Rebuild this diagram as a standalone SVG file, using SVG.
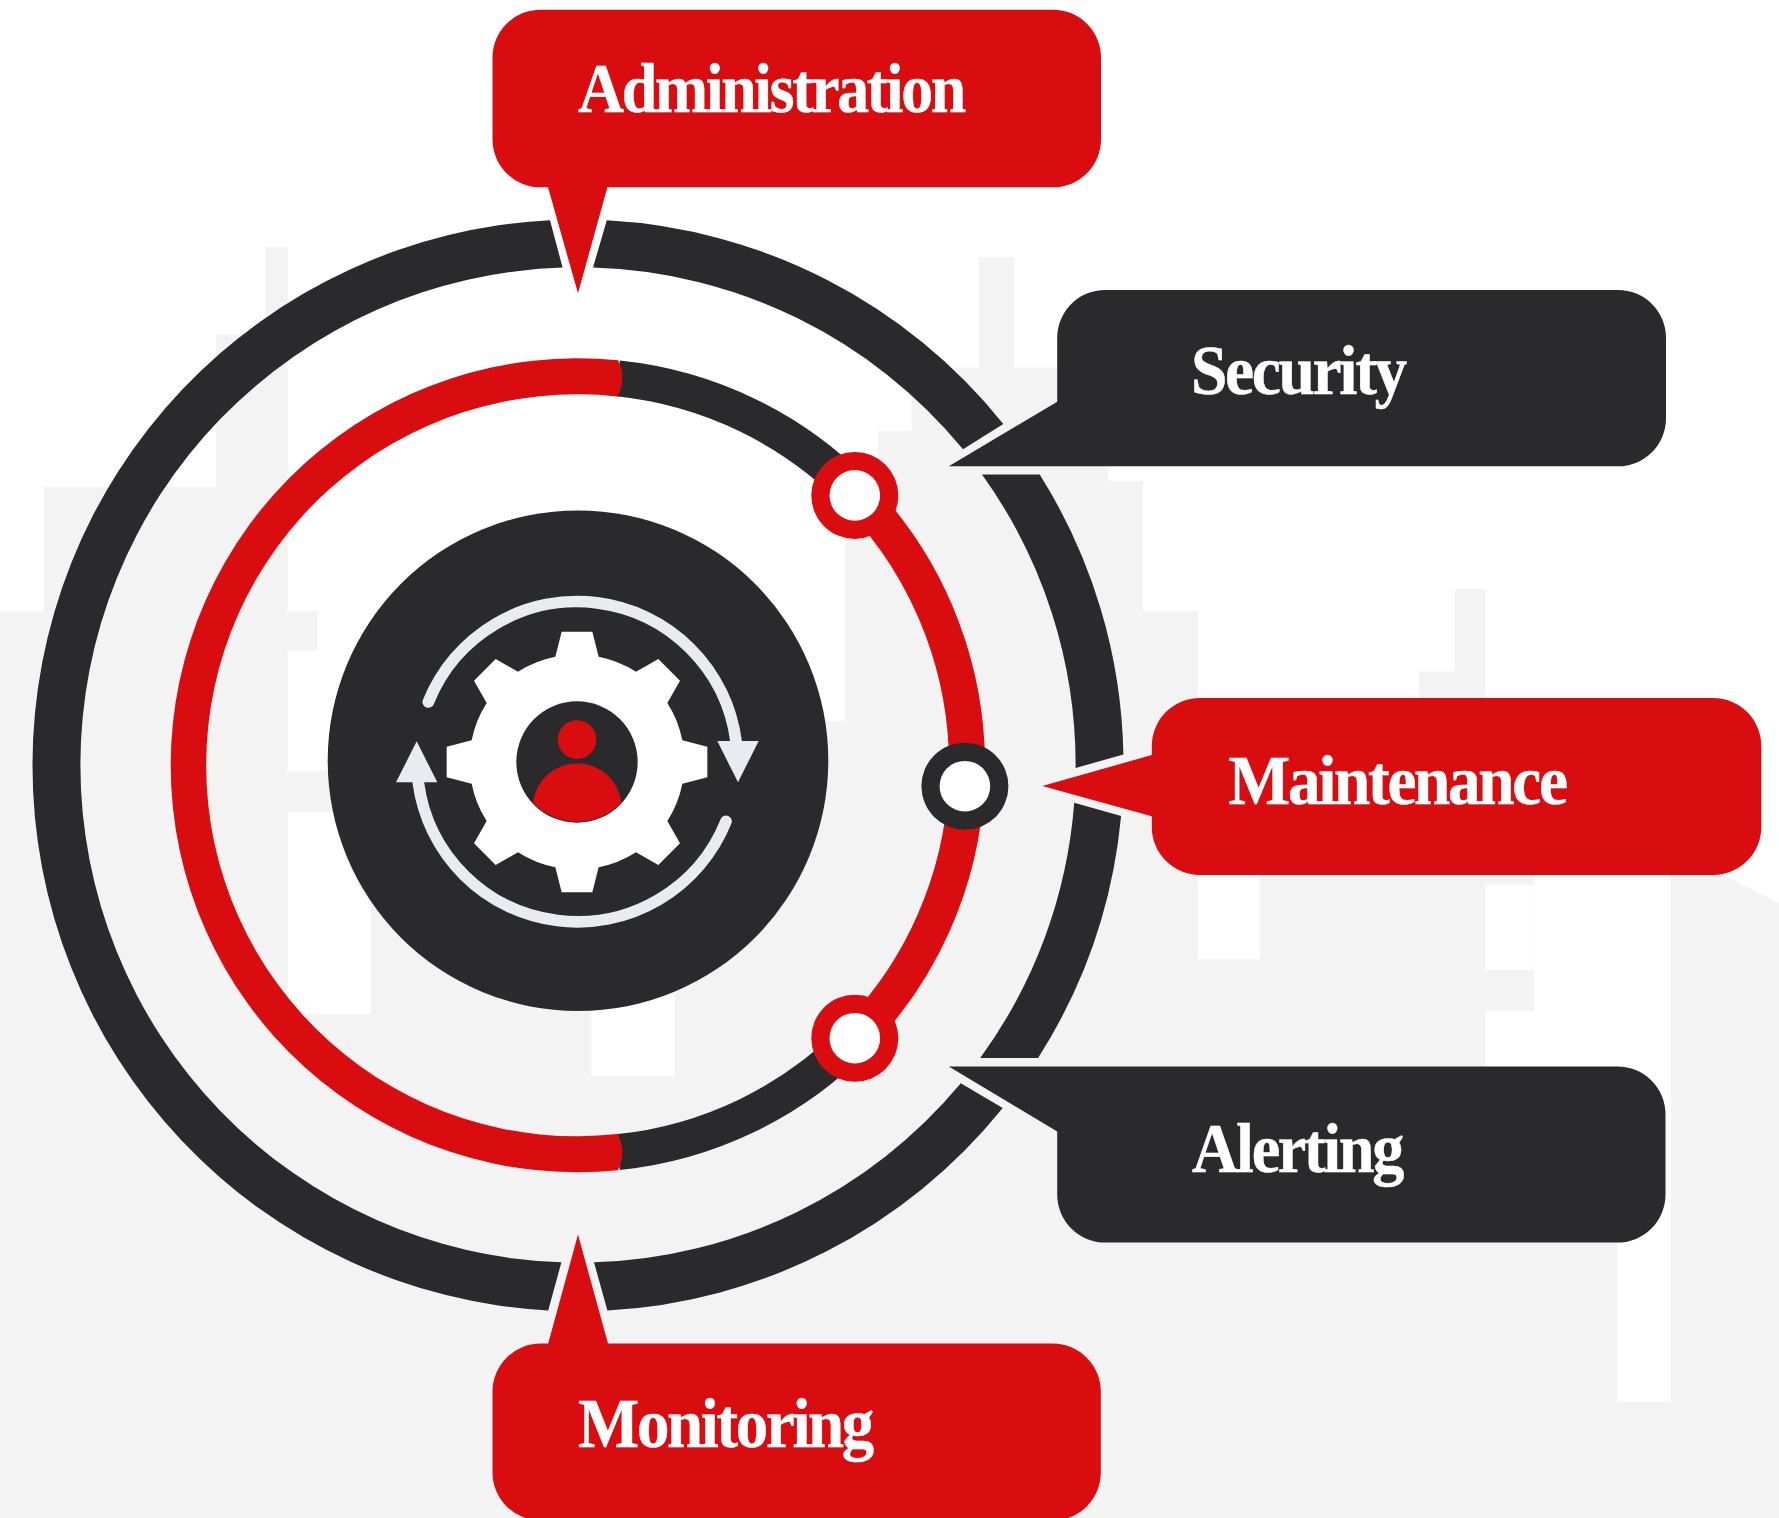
<svg xmlns="http://www.w3.org/2000/svg" width="1779" height="1518" viewBox="0 0 1779 1518">
<style>
.red{fill:#d90d10}
.dark{fill:#2a2a2c}
.w{fill:#fff}
.lbl{font-family:"Liberation Serif","Times New Roman",serif;font-weight:700;font-size:70px;fill:#fff;stroke:#fff;stroke-width:.5px;letter-spacing:-2.5px}
.arc{fill:none;stroke-width:36}
.flow{fill:none;stroke:#e8ebf0;stroke-width:35;stroke-linecap:round}
.head{fill:#e8ebf0}
</style>
<rect width="1779" height="1518" fill="#fff"/>
<g id="background">
<path fill="#f3f3f3" d="M0 1518V611H44V487H216V334.5H265V247H287.6V611H317.5V650.5H287.6V771H400V721H845V500H878V431H911.5V367.4H979V257H1014V367.4H1108V481H1143V611H1198V750H1419V671.4H1455V589H1485.5V750H1700V875H1723L1779 903V1518Z"/>
<g class="w">
<rect x="287.6" y="812.3" width="83.2" height="201.7"/>
<rect x="591.3" y="900" width="83.2" height="175.6"/>
<rect x="1198" y="750" width="61.6" height="209.2"/>
<rect x="1485.5" y="885" width="48.8" height="85"/>
<rect x="1485.5" y="1010.6" width="185.2" height="90"/>
<rect x="1534.3" y="800" width="136.4" height="300"/>
<rect x="1617.4" y="1100" width="53.3" height="302"/>
</g>
</g>
<g id="connectors">
<g class="dark">
<path d="M548.2 1310.5A545.5 545.5 0 0 1 32.5 765A545.5 545.5 0 0 1 550 220.2L562.6 267.6A497.6 497.6 0 0 0 80.4 765A497.6 497.6 0 0 0 561.4 1262.3Z"/>
<path d="M606.8 220.3A545.5 545.5 0 0 1 1003.3 424L963 449.3A497.6 497.6 0 0 0 593 267.6Z"/>
<path d="M1039.7 474.5A545.5 545.5 0 0 1 1123.4 754.5L1075.6 768A497.6 497.6 0 0 0 982 474.5Z"/>
<path d="M1121.1 816A545.5 545.5 0 0 1 1038.1 1058H980.2A497.6 497.6 0 0 0 1074.2 802.7Z"/>
<path d="M1002.7 1108A545.5 545.5 0 0 1 607.4 1310.5L594 1262.3A497.6 497.6 0 0 0 960.8 1083.3Z"/>
</g>
<path class="arc" stroke="#2a2a2c" d="M618 378.4A389 389 0 0 1 856.5 493.7"/>
<path class="arc" stroke="#2a2a2c" d="M855.2 1038.2A389 389 0 0 1 618 1152.2"/>
<path class="arc" stroke="#d90d10" d="M856.5 493.7A389 389 0 0 1 966.4 786.3"/>
<path class="arc" stroke="#d90d10" d="M966.4 786.3A389 389 0 0 1 855.2 1038.2"/>
<path class="red" d="M618 360.3A407 407 0 1 0 618 1170.3Q627 1152 617.5 1134.1A371 371 0 1 1 617.5 396.5Q627 377 618 360.3Z"/>
</g>
<g id="hub">
<circle class="dark" cx="578" cy="760.7" r="250.3"/>
<g transform="translate(577 762) scale(.33333)">
<path class="w" d="M-46-391H46L65-316A323 323 0 0 1 177-271L244-309 309-244 271-177A323 323 0 0 1 316-65L391-46V46L316 65A323 323 0 0 1 271 177L309 244 244 309 177 271A323 323 0 0 1 65 316L46 391H-46L-65 316A323 323 0 0 1-177 271L-244 309-309 244-271 177A323 323 0 0 1-316 65L-391 46V-46L-316-65A323 323 0 0 1-271-177L-309-244-244-309-177-271A323 323 0 0 1-65-316Z"/>
<circle class="dark" cx="0" cy="0" r="182"/>
<circle class="red" cx="0" cy="-67" r="58"/>
<path class="red" d="M-132 122A133.4 133.4 0 0 1 133 122A182 182 0 0 1-132 122Z"/>
<path class="flow" d="M-446-180A481 481 0 0 1 477-63"/>
<path class="head" d="M421-63H545L483 61Z"/>
<path class="flow" d="M447 178A481 481 0 0 1-476 62"/>
<path class="head" d="M-543 61H-419L-481-62Z"/>
</g>
</g>
<g id="node-upper"><circle class="red" cx="854.8" cy="495.4" r="43.5"/><circle class="w" cx="854.8" cy="495.4" r="25.3"/></g>
<g id="node-right"><circle class="dark" cx="964.9" cy="786.2" r="43.5"/><circle class="w" cx="964.9" cy="786.2" r="25.3"/></g>
<g id="node-lower"><circle class="red" cx="854.8" cy="1038.2" r="43.5"/><circle class="w" cx="854.8" cy="1038.2" r="25.3"/></g>
<g id="administration">
<path class="red" d="M540.5 9.7H1053A48 48 0 0 1 1101 57.7V139.3A48 48 0 0 1 1053 187.3H607.4L578 293.3 548 187.3H540.5A48 48 0 0 1 492.5 139.3V57.7A48 48 0 0 1 540.5 9.7Z"/>
<text class="lbl" x="578" y="112" textLength="386" lengthAdjust="spacingAndGlyphs">Administration</text>
</g>
<g id="security">
<path class="dark" d="M1105.2 289.9H1618A48 48 0 0 1 1666 337.9V418.3A48 48 0 0 1 1618 466.3H948.8L1057.2 401.8V337.9A48 48 0 0 1 1105.2 289.9Z"/>
<text class="lbl" x="1191" y="393.6" textLength="214" lengthAdjust="spacingAndGlyphs">Security</text>
</g>
<g id="maintenance">
<path class="red" d="M1199.8 698H1713.3A48 48 0 0 1 1761.3 746V826.9A48 48 0 0 1 1713.3 874.9H1199.8A48 48 0 0 1 1151.8 826.9V816.2L1042.3 786 1151.8 755V746A48 48 0 0 1 1199.8 698Z"/>
<text class="lbl" x="1228.6" y="803.6" textLength="337" lengthAdjust="spacingAndGlyphs">Maintenance</text>
</g>
<g id="alerting">
<path class="dark" d="M948.8 1066.4H1617.5A48 48 0 0 1 1665.5 1114.4V1194.6A48 48 0 0 1 1617.5 1242.6H1105.2A48 48 0 0 1 1057.2 1194.6V1131.4Z"/>
<text class="lbl" x="1192" y="1171.5" textLength="210" lengthAdjust="spacingAndGlyphs">Alerting</text>
</g>
<g id="monitoring">
<path class="red" d="M540.5 1343.6H548.2L578 1234.5 608 1343.6H1052.8A48 48 0 0 1 1100.8 1391.6V1472.5A48 48 0 0 1 1052.8 1520.5H540.5A48 48 0 0 1 492.5 1472.5V1391.6A48 48 0 0 1 540.5 1343.6Z"/>
<text class="lbl" x="578" y="1447.4" textLength="294" lengthAdjust="spacingAndGlyphs">Monitoring</text>
</g>
</svg>
